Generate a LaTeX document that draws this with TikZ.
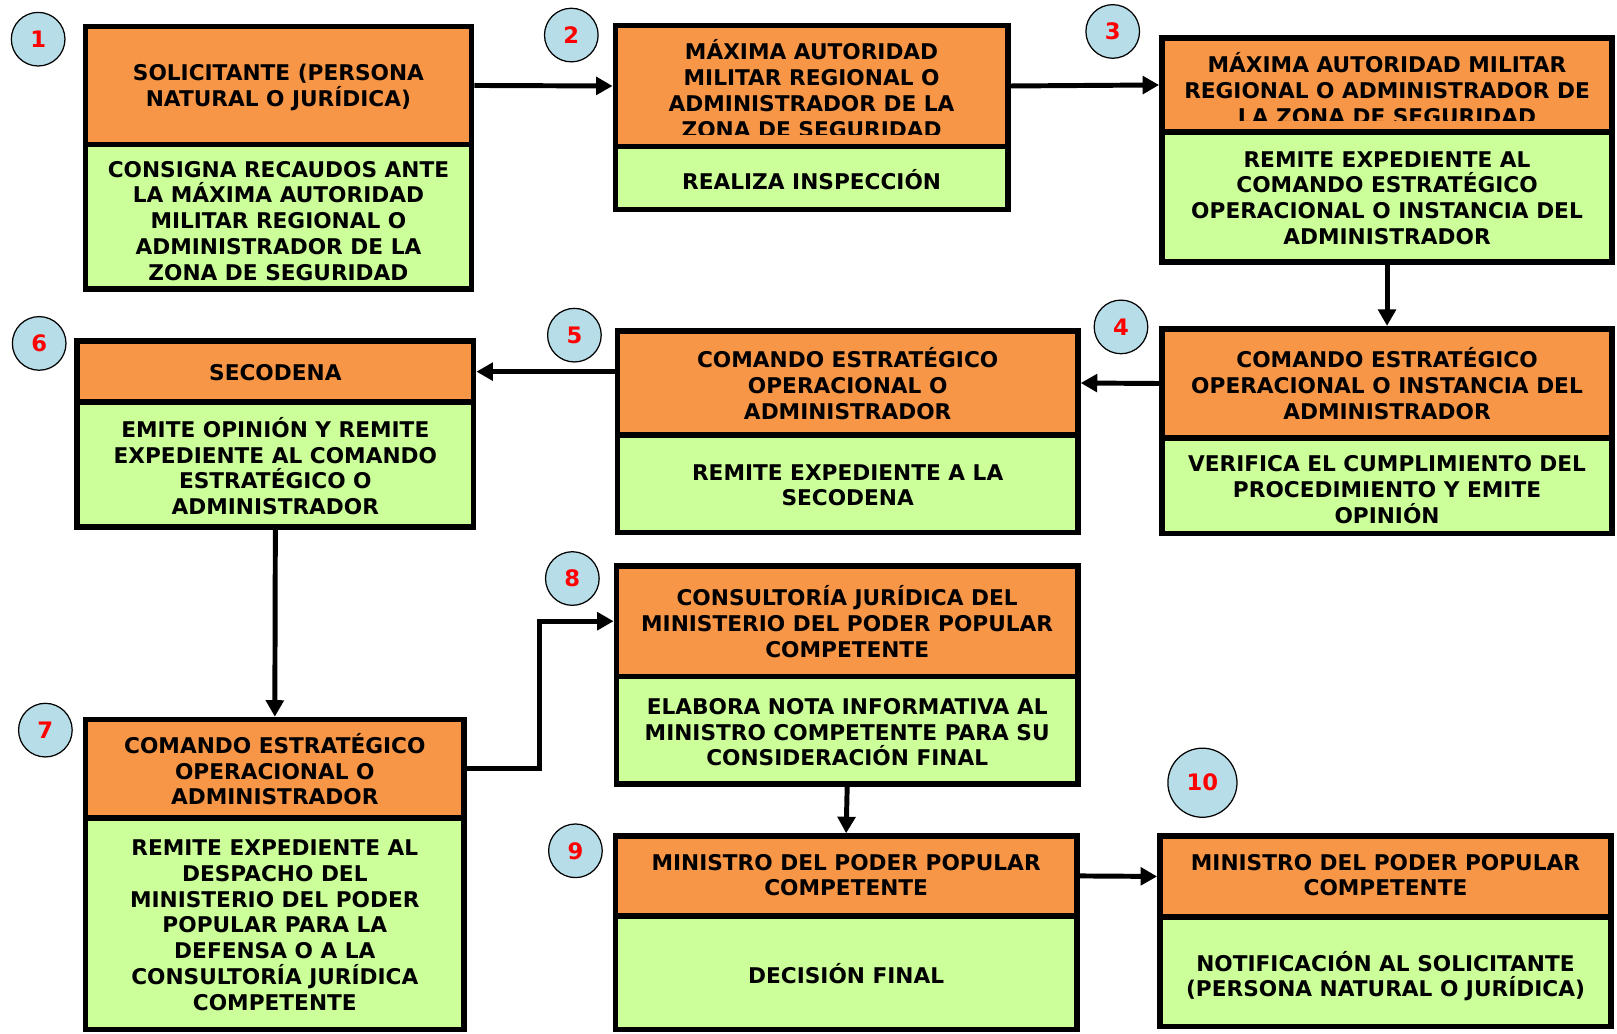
\documentclass[tikz,border=0pt]{standalone}
\usepackage{fontspec}
\setmainfont{DejaVu Sans}
\usetikzlibrary{arrows.meta}
\definecolor{orng}{HTML}{F79646}
\definecolor{grn}{HTML}{CCFF99}
\definecolor{circ}{HTML}{B7DEE8}
\newcommand\mkbox[6]{%
  \node[hd, minimum width={(#4-#2-5.5)*1pt}, minimum height={(#5-#3-2.75)*1pt}] (#1t) at (#2,#3) {};
  \node[bd, minimum width={(#4-#2-5.5)*1pt}, minimum height={(#6-#5-2.75)*1pt}] (#1b) at (#2,#5-2.75) {};
}
\begin{document}
\begin{tikzpicture}[x=1pt,y=-1pt,
  hd/.style={fill=orng, draw=black, line width=5.5pt, rectangle, anchor=north west, inner sep=0pt},
  bd/.style={fill=grn, draw=black, line width=5.5pt, rectangle, anchor=north west, inner sep=0pt},
  txt/.style={align=center, font=\bfseries\fontsize{21}{25}\selectfont, inner sep=0pt},
  num/.style={circle, draw=black, line width=1.2pt, fill=circ, minimum size=52pt, inner sep=0pt, text=red, font=\bfseries\fontsize{22}{26}\selectfont},
  arr/.style={line width=4.8pt, -{Triangle[length=16pt,width=17pt]}}
]
\useasboundingbox[fill=white] (0,0) rectangle (1568,1002);

% boxes
\mkbox{b1}{80}{23}{460}{140}{283}
\mkbox{b2}{594}{22}{980}{142}{206}
\mkbox{b3}{1124}{34}{1566}{128}{257}
\mkbox{b4}{1124}{316}{1566}{425}{520}
\mkbox{b5}{596}{318}{1048}{422}{519}
\mkbox{b6}{72}{328}{462}{390}{514}
\mkbox{b7}{80}{695}{453}{793}{1001}
\mkbox{b8}{595}{546}{1048}{656}{763}
\mkbox{b9}{594}{808}{1047}{888}{1001}
\mkbox{b10}{1122}{808}{1565}{889}{998}

% texts
\node[txt] (x1t) at (270,84.5) {SOLICITANTE (PERSONA\\NATURAL O JURÍDICA)};
\node[txt] (x1b) at (270,214) {CONSIGNA RECAUDOS ANTE\\LA MÁXIMA AUTORIDAD\\MILITAR REGIONAL O\\ADMINISTRADOR DE LA\\ZONA DE SEGURIDAD};
\begin{scope}
\clip (594,22) rectangle (980,130);
\node[txt] (x2t) at (787,86) {MÁXIMA AUTORIDAD\\MILITAR REGIONAL O\\ADMINISTRADOR DE LA\\ZONA DE SEGURIDAD};
\end{scope}
\node[txt] (x2b) at (787,174) {REALIZA INSPECCIÓN};
\begin{scope}
\clip (1124,34) rectangle (1566,117);
\node[txt] (x3t) at (1345,86) {MÁXIMA AUTORIDAD MILITAR\\REGIONAL O ADMINISTRADOR DE\\LA ZONA DE SEGURIDAD};
\end{scope}
\node[txt] (x3b) at (1345,192) {REMITE EXPEDIENTE AL\\COMANDO ESTRATÉGICO\\OPERACIONAL O INSTANCIA DEL\\ADMINISTRADOR};
\node[txt] (x4t) at (1345,372) {COMANDO ESTRATÉGICO\\OPERACIONAL O INSTANCIA DEL\\ADMINISTRADOR};
\node[txt] (x4b) at (1345,475) {VERIFICA EL CUMPLIMIENTO DEL\\PROCEDIMIENTO Y EMITE\\OPINIÓN};
\node[txt] (x5t) at (822,372) {COMANDO ESTRATÉGICO\\OPERACIONAL O\\ADMINISTRADOR};
\node[txt] (x5b) at (822,470.5) {REMITE EXPEDIENTE A LA\\SECODENA};
\node[txt] (x6t) at (267,361) {SECODENA};
\node[txt] (x6b) at (267,452) {EMITE OPINIÓN Y REMITE\\EXPEDIENTE AL COMANDO\\ESTRATÉGICO O\\ADMINISTRADOR};
\node[txt] (x7t) at (266.5,746) {COMANDO ESTRATÉGICO\\OPERACIONAL O\\ADMINISTRADOR};
\node[txt] (x7b) at (266.5,897) {REMITE EXPEDIENTE AL\\DESPACHO DEL\\MINISTERIO DEL PODER\\POPULAR PARA LA\\DEFENSA O A LA\\CONSULTORÍA JURÍDICA\\COMPETENTE};
\node[txt] (x8t) at (821.5,603) {CONSULTORÍA JURÍDICA DEL\\MINISTERIO DEL PODER POPULAR\\COMPETENTE};
\node[txt] (x8b) at (821.5,710) {ELABORA NOTA INFORMATIVA AL\\MINISTRO COMPETENTE PARA SU\\CONSIDERACIÓN FINAL};
\node[txt] (x9t) at (820.5,848.5) {MINISTRO DEL PODER POPULAR\\COMPETENTE};
\node[txt] (x9b) at (820.5,944) {DECISIÓN FINAL};
\node[txt] (x10t) at (1343.5,848.5) {MINISTRO DEL PODER POPULAR\\COMPETENTE};
\node[txt] (x10b) at (1343.5,946.5) {NOTIFICACIÓN AL SOLICITANTE\\(PERSONA NATURAL O JURÍDICA)};

% number circles
\node[num] (n1) at (37,38) {1};
\node[num] (n2) at (554,34) {2};
\node[num] (n3) at (1079,30.5) {3};
\node[num] (n4) at (1087,317) {4};
\node[num] (n5) at (557,325) {5};
\node[num] (n6) at (38,333) {6};
\node[num] (n7) at (44,708) {7};
\node[num] (n8) at (555,561) {8};
\node[num] (n9) at (558,825) {9};
\node[num, minimum size=67pt] (n10) at (1166,759) {10};

% connectors
\coordinate (k78) at (523,0);
\draw[arr] (b1t.east) -- (b2t.west);
\draw[arr] (b2t.east) -- (b3t.west);
\draw[arr] (b3b.south) -- (b4t.north);
\draw[arr] (b4t.west) -- (b5t.east);
\draw[arr] (b5t.west |- b6t.east) -- (b6t.east);
\draw[arr] (b6b.south) -- (b7t.north);
\draw[arr] (b7t.east) -- (b7t.east -| k78) -- (b8t.west -| k78) -- (b8t.west);
\draw[arr] (b8b.south) -- (b9t.north);
\draw[arr] (b9t.east) -- (b10t.west);
\end{tikzpicture}
\end{document}
